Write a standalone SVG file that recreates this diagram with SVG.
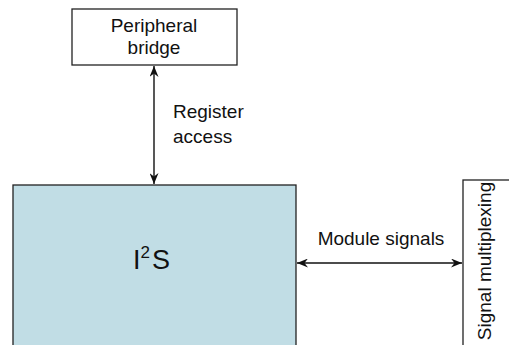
<svg xmlns="http://www.w3.org/2000/svg" width="509" height="345" viewBox="0 0 509 345">
<style>
text{font-family:"Liberation Sans",Arial,sans-serif;font-size:19px;fill:#111}
.box{fill:#fff;stroke:#222;stroke-width:1.3}
.conn{stroke:#111;stroke-width:1.4;fill:none;marker-start:url(#ah);marker-end:url(#ah)}
</style>
<defs>
<marker id="ah" markerWidth="11" markerHeight="9" refX="11" refY="4.5" orient="auto-start-reverse" markerUnits="userSpaceOnUse">
<path d="M0,0 L11,4.5 L0,9 L3.5,4.5 z" fill="#111"/>
</marker>
</defs>
<g id="peripheral-bridge">
<rect class="box" x="72" y="9" width="165" height="56"/>
<text x="154" y="32" text-anchor="middle">Peripheral</text>
<text x="154" y="54" text-anchor="middle">bridge</text>
</g>
<g id="i2s">
<rect class="box" x="13" y="185" width="283" height="165" style="fill:#c1dde5"/>
<text x="133" y="269" style="font-size:27px">I<tspan font-size="17" dy="-11">2</tspan><tspan dx="2" dy="11">S</tspan></text>
</g>
<g id="signal-multiplexing">
<rect class="box" x="463" y="180" width="60" height="175"/>
<text transform="translate(491,261) rotate(-90)" text-anchor="middle">Signal multiplexing</text>
</g>
<g id="connectors">
<line class="conn" x1="154" y1="66" x2="154" y2="184"/>
<text x="173" y="118">Register</text>
<text x="173" y="143">access</text>
<line class="conn" x1="297" y1="263" x2="462" y2="263"/>
<text x="381" y="245" text-anchor="middle">Module signals</text>
</g>
</svg>
